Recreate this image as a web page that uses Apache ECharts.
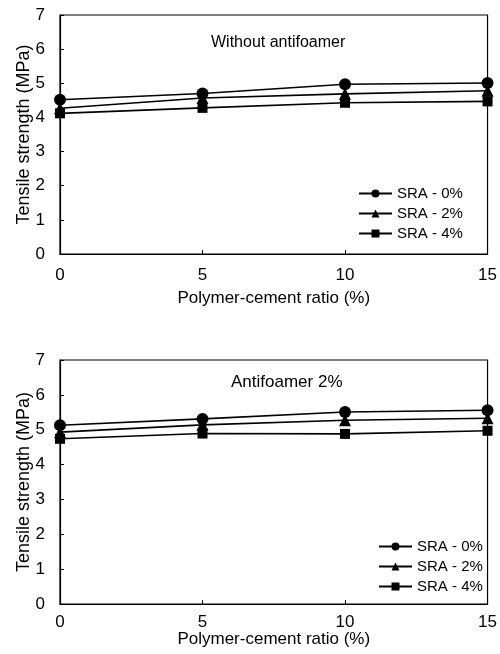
<!DOCTYPE html>
<html>
<head>
<meta charset="utf-8">
<script src="https://cdn.jsdelivr.net/npm/echarts@6/dist/echarts.min.js"></script>
<style>
  html, body { margin: 0; padding: 0; background: #fff; }
  #main { width: 500px; height: 654px; }
</style>
</head>
<body>
<div id="main"></div>
<script>
// polymer-cement ratio (%)
const ratios = [0, 5, 10, 15];
const seriesNames = ['SRA - 0%', 'SRA - 2%', 'SRA - 4%'];
const symbols = ['circle', 'triangle', 'rect'];

// without antifoamer
const topSra0 = [4.52, 4.7, 4.97, 5.01];
const topSra2 = [4.27, 4.57, 4.69, 4.78];
const topSra4 = [4.12, 4.28, 4.43, 4.47];

// antifoamer 2%
const botSra0 = [5.13, 5.31, 5.51, 5.56];
const botSra2 = [4.93, 5.14, 5.27, 5.33];
const botSra4 = [4.74, 4.89, 4.88, 4.97];

const font = 'Liberation Sans, Arial, sans-serif';

function pairs(vals) {
    return ratios.map((x, i) => [x, vals[i]]);
}

function xAxis(idx, labelMargin, nameGap) {
    return {
        type: 'value', gridIndex: idx, min: 0, max: 15, interval: 5,
        name: 'Polymer-cement ratio (%)', nameLocation: 'middle', nameGap: nameGap,
        nameMoveOverlap: false,
        nameTextStyle: { color: '#000', fontSize: 17, fontFamily: font },
        axisLine: { lineStyle: { color: '#000', width: 1.2 } },
        axisTick: { inside: true, length: 4, lineStyle: { color: '#000' } },
        axisLabel: { color: '#000', fontSize: 17, fontFamily: font, margin: labelMargin },
        splitLine: { show: false }
    };
}

function yAxis(idx) {
    return {
        type: 'value', gridIndex: idx, min: 0, max: 7, interval: 1,
        name: 'Tensile strength (MPa)', nameLocation: 'middle', nameGap: 27,
        nameMoveOverlap: false,
        nameTextStyle: { color: '#000', fontSize: 18, fontFamily: font },
        axisLine: { lineStyle: { color: '#000', width: 1.2 } },
        axisTick: { inside: true, length: 4, lineStyle: { color: '#000' } },
        axisLabel: { color: '#000', fontSize: 17, fontFamily: font, margin: 15 },
        splitLine: { show: false }
    };
}

function line(name, idx, vals, sym) {
    return {
        name: name, type: 'line', xAxisIndex: idx, yAxisIndex: idx,
        data: pairs(vals),
        symbol: sym, symbolSize: sym === 'rect' ? 10 : 12,
        lineStyle: { color: '#000', width: 1.6 },
        itemStyle: { color: '#000' },
        animation: false
    };
}

let myChart = echarts.init(document.getElementById('main'));
myChart.setOption({
    backgroundColor: '#fff',
    title: [
        { text: 'Without antifoamer', left: 206, top: 30,
          textStyle: { color: '#000', fontSize: 16, fontWeight: 'normal', fontFamily: font } },
        { text: 'Antifoamer 2%', left: 226, top: 369,
          textStyle: { color: '#000', fontSize: 17, fontWeight: 'normal', fontFamily: font } }
    ],
    legend: [
        { data: seriesNames, orient: 'vertical', left: 358, top: 186, itemGap: 5, padding: 0,
          itemWidth: 33, itemHeight: 10,
          textStyle: { color: '#000', fontSize: 15, fontFamily: font },
          selectedMode: false },
        { data: seriesNames, orient: 'vertical', left: 378, top: 539, itemGap: 5, padding: 0,
          itemWidth: 33, itemHeight: 10,
          textStyle: { color: '#000', fontSize: 15, fontFamily: font },
          selectedMode: false }
    ],
    grid: [
        { left: 60, right: 6, top: 15, height: 239, show: true, borderColor: '#000', borderWidth: 1.2 },
        { left: 60, right: 6, top: 360, height: 244, show: true, borderColor: '#000', borderWidth: 1.2 }
    ],
    xAxis: [xAxis(0, 13, 36), xAxis(1, 10, 27)],
    yAxis: [yAxis(0), yAxis(1)],
    series: [
        line(seriesNames[0], 0, topSra0, symbols[0]),
        line(seriesNames[1], 0, topSra2, symbols[1]),
        line(seriesNames[2], 0, topSra4, symbols[2]),
        line(seriesNames[0], 1, botSra0, symbols[0]),
        line(seriesNames[1], 1, botSra2, symbols[1]),
        line(seriesNames[2], 1, botSra4, symbols[2])
    ]
});
</script>
</body>
</html>
